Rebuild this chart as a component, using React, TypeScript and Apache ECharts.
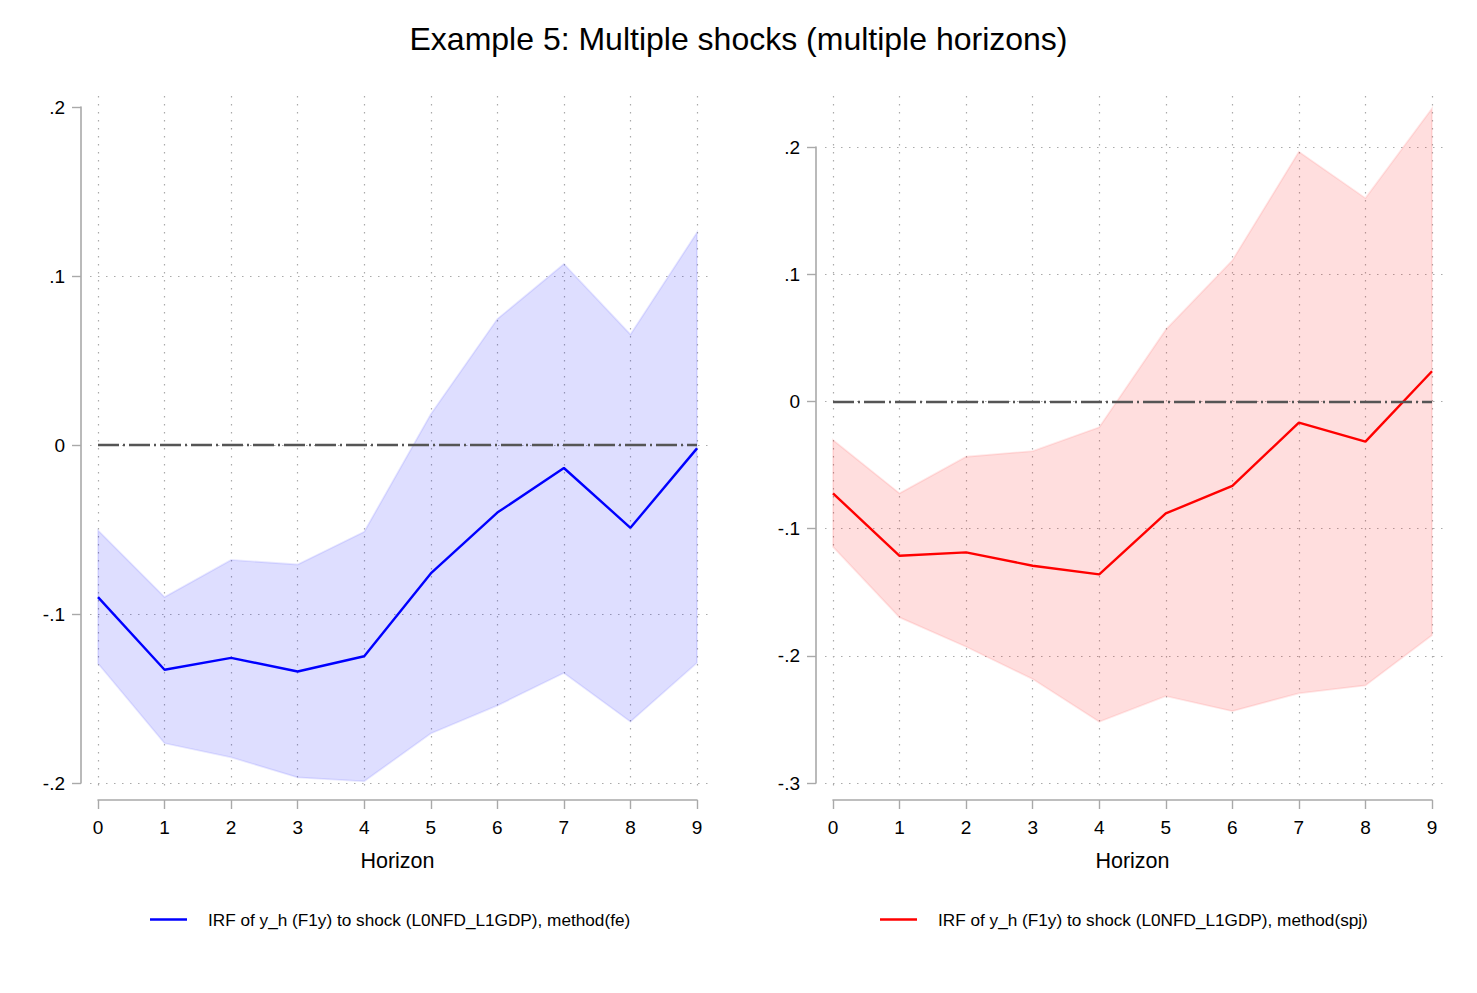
import React, { useEffect, useRef } from "react";
import * as echarts from "echarts";

// ---- data ----
const horizons = [0, 1, 2, 3, 4, 5, 6, 7, 8, 9];
const feIRF = [-0.090, -0.133, -0.126, -0.134, -0.125, -0.076, -0.040, -0.0136, -0.049, -0.002];
const feUpper = [-0.0505, -0.090, -0.068, -0.0707, -0.0513, 0.0182, 0.0745, 0.1071, 0.0654, 0.1257];
const feLower = [-0.1293, -0.1765, -0.1848, -0.1967, -0.199, -0.1707, -0.1542, -0.1349, -0.1637, -0.1289];
const spjIRF = [-0.0723, -0.1214, -0.1187, -0.1292, -0.136, -0.0881, -0.0664, -0.0167, -0.0316, 0.0237];
const spjUpper = [-0.0304, -0.0723, -0.0435, -0.0391, -0.0204, 0.0564, 0.1108, 0.1962, 0.1598, 0.2303];
const spjLower = [-0.1143, -0.1698, -0.1929, -0.2183, -0.2519, -0.2317, -0.2435, -0.2295, -0.2233, -0.1838];

const leftYTicks = [-0.2, -0.1, 0, 0.1, 0.2];
const rightYTicks = [-0.3, -0.2, -0.1, 0, 0.1, 0.2];
const yTickLabels: Record<string, string> = {
  "-0.3": "-.3", "-0.2": "-.2", "-0.1": "-.1", "0": "0", "0.1": ".1", "0.2": ".2",
};

const titleText = "Example 5: Multiple shocks (multiple horizons)";
const xName = "Horizon";
const feName = "IRF of y_h (F1y) to shock (L0NFD_L1GDP), method(fe)";
const spjName = "IRF of y_h (F1y) to shock (L0NFD_L1GDP), method(spj)";

const FONT = "'Liberation Sans', Arial, sans-serif";

function fmtY(v: number) {
  const key = String(Math.round(v * 10) / 10);
  return yTickLabels[key] ?? key;
}

export default function App() {
  const ref = useRef<HTMLDivElement>(null);
  useEffect(() => {
    if (!ref.current) return;
    const chart = echarts.init(ref.current, undefined, { renderer: "svg" });

    const axisGray = "#a9a9a9";
    const dotted = { color: "#aaaaaa", width: 1.2, type: [1.5, 6.5] as any };

    const dataX = (gi: number) => ({
      type: "value" as const,
      gridIndex: gi,
      min: horizons[0],
      max: horizons[horizons.length - 1],
      interval: 1,
      offset: 17,
      name: xName,
      nameLocation: "middle" as const,
      nameGap: 50,
      nameTextStyle: { fontFamily: FONT, fontSize: 21.5, color: "#000" },
      axisLine: { show: true, onZero: false, lineStyle: { color: axisGray, width: 1.6 } },
      axisTick: { show: true, length: 9, lineStyle: { color: axisGray, width: 1.4 } },
      axisLabel: { fontFamily: FONT, fontSize: 19, color: "#000", margin: 18 },
      splitLine: { show: false },
    });
    const dataY = (gi: number, min: number, max: number) => ({
      type: "value" as const,
      gridIndex: gi,
      min,
      max,
      interval: 0.1,
      offset: 17,
      axisLine: { show: true, onZero: false, lineStyle: { color: axisGray, width: 1.6 } },
      axisTick: { show: true, length: 9, lineStyle: { color: axisGray, width: 1.4 } },
      axisLabel: { fontFamily: FONT, fontSize: 19, color: "#000", margin: 16, formatter: fmtY },
      splitLine: { show: false },
    });
    const vGridX = (gi: number) => ({
      type: "value" as const, gridIndex: gi, min: horizons[0], max: horizons[horizons.length - 1], interval: 1,
      axisLine: { show: false }, axisTick: { show: false }, axisLabel: { show: false },
      splitLine: { show: true, lineStyle: dotted },
    });
    const hiddenAxis = (gi: number) => ({ type: "value" as const, gridIndex: gi, min: 0, max: 1, show: false });
    const hGridY = (gi: number, min: number, max: number) => ({
      type: "value" as const, gridIndex: gi, min, max, interval: 0.1,
      axisLine: { show: false }, axisTick: { show: false }, axisLabel: { show: false },
      splitLine: { show: true, lineStyle: dotted },
    });

    const band = (xi: number, upper: number[], lower: number[], fill: string, stroke: string) => ({
      type: "custom" as const,
      xAxisIndex: xi,
      yAxisIndex: xi,
      silent: true,
      clip: false,
      data: [[horizons[0], upper[0]]],
      renderItem: (_p: any, api: any) => {
        const pts: number[][] = [];
        horizons.forEach((h, i) => pts.push(api.coord([h, upper[i]])));
        for (let i = horizons.length - 1; i >= 0; i--) pts.push(api.coord([horizons[i], lower[i]]));
        return {
          type: "polygon",
          shape: { points: pts },
          style: { fill, stroke, lineWidth: 1.8 },
        };
      },
      z: 1,
    });

    const zeroMark = {
      symbol: "none",
      silent: true,
      label: { show: false },
      lineStyle: { color: "#555555", width: 2.4, type: [21, 4, 2, 4] as any },
      data: [{ yAxis: 0 }],
    };

    const line = (xi: number, name: string, vals: number[], color: string) => ({
      type: "line" as const,
      name,
      xAxisIndex: xi,
      yAxisIndex: xi,
      data: horizons.map((h, i) => [h, vals[i]]),
      symbol: "none",
      lineStyle: { color, width: 2.4 },
      itemStyle: { color },
      markLine: zeroMark,
      z: 3,
    });

    const legendBase = {
      top: 911,
      padding: 0,
      icon: "rect",
      itemWidth: 37,
      itemHeight: 2.4,
      textStyle: { fontFamily: FONT, fontSize: 17.2, color: "#000", padding: [0, 0, 0, 16] },
    };

    chart.setOption({
      animation: false,
      backgroundColor: "#ffffff",
      title: {
        text: titleText,
        left: "center",
        top: 18,
        textStyle: { fontFamily: FONT, fontSize: 32, fontWeight: "normal", color: "#000" },
      },
      grid: [
        { left: 98, top: 107, width: 599, height: 676 },
        { left: 833, top: 147, width: 599, height: 636 },
        { left: 98, top: 96, width: 599, height: 695 },
        { left: 90, top: 276, width: 623, height: 507 },
        { left: 833, top: 96, width: 599, height: 695 },
        { left: 825, top: 147, width: 623, height: 636 },
      ],
      xAxis: [dataX(0), dataX(1), vGridX(2), hiddenAxis(3), vGridX(4), hiddenAxis(5)],
      yAxis: [
        dataY(0, leftYTicks[0], leftYTicks[leftYTicks.length - 1]),
        dataY(1, rightYTicks[0], rightYTicks[rightYTicks.length - 1]),
        hiddenAxis(2),
        hGridY(3, -0.2, 0.1),
        hiddenAxis(4),
        hGridY(5, rightYTicks[0], rightYTicks[rightYTicks.length - 1]),
      ],
      legend: [
        { ...legendBase, data: [feName], left: 150 },
        { ...legendBase, data: [spjName], left: 880 },
      ],
      series: [
        band(0, feUpper, feLower, "rgba(0,0,255,0.13)", "rgba(0,0,255,0.09)"),
        line(0, feName, feIRF, "#0000ff"),
        band(1, spjUpper, spjLower, "rgba(255,0,0,0.13)", "rgba(255,0,0,0.09)"),
        line(1, spjName, spjIRF, "#ff0000"),
      ],
    });

    return () => chart.dispose();
  }, []);

  return (
    <div
      ref={ref}
      style={{ position: "absolute", left: 0, top: 0, width: 1477, height: 993, background: "#fff" }}
    />
  );
}
